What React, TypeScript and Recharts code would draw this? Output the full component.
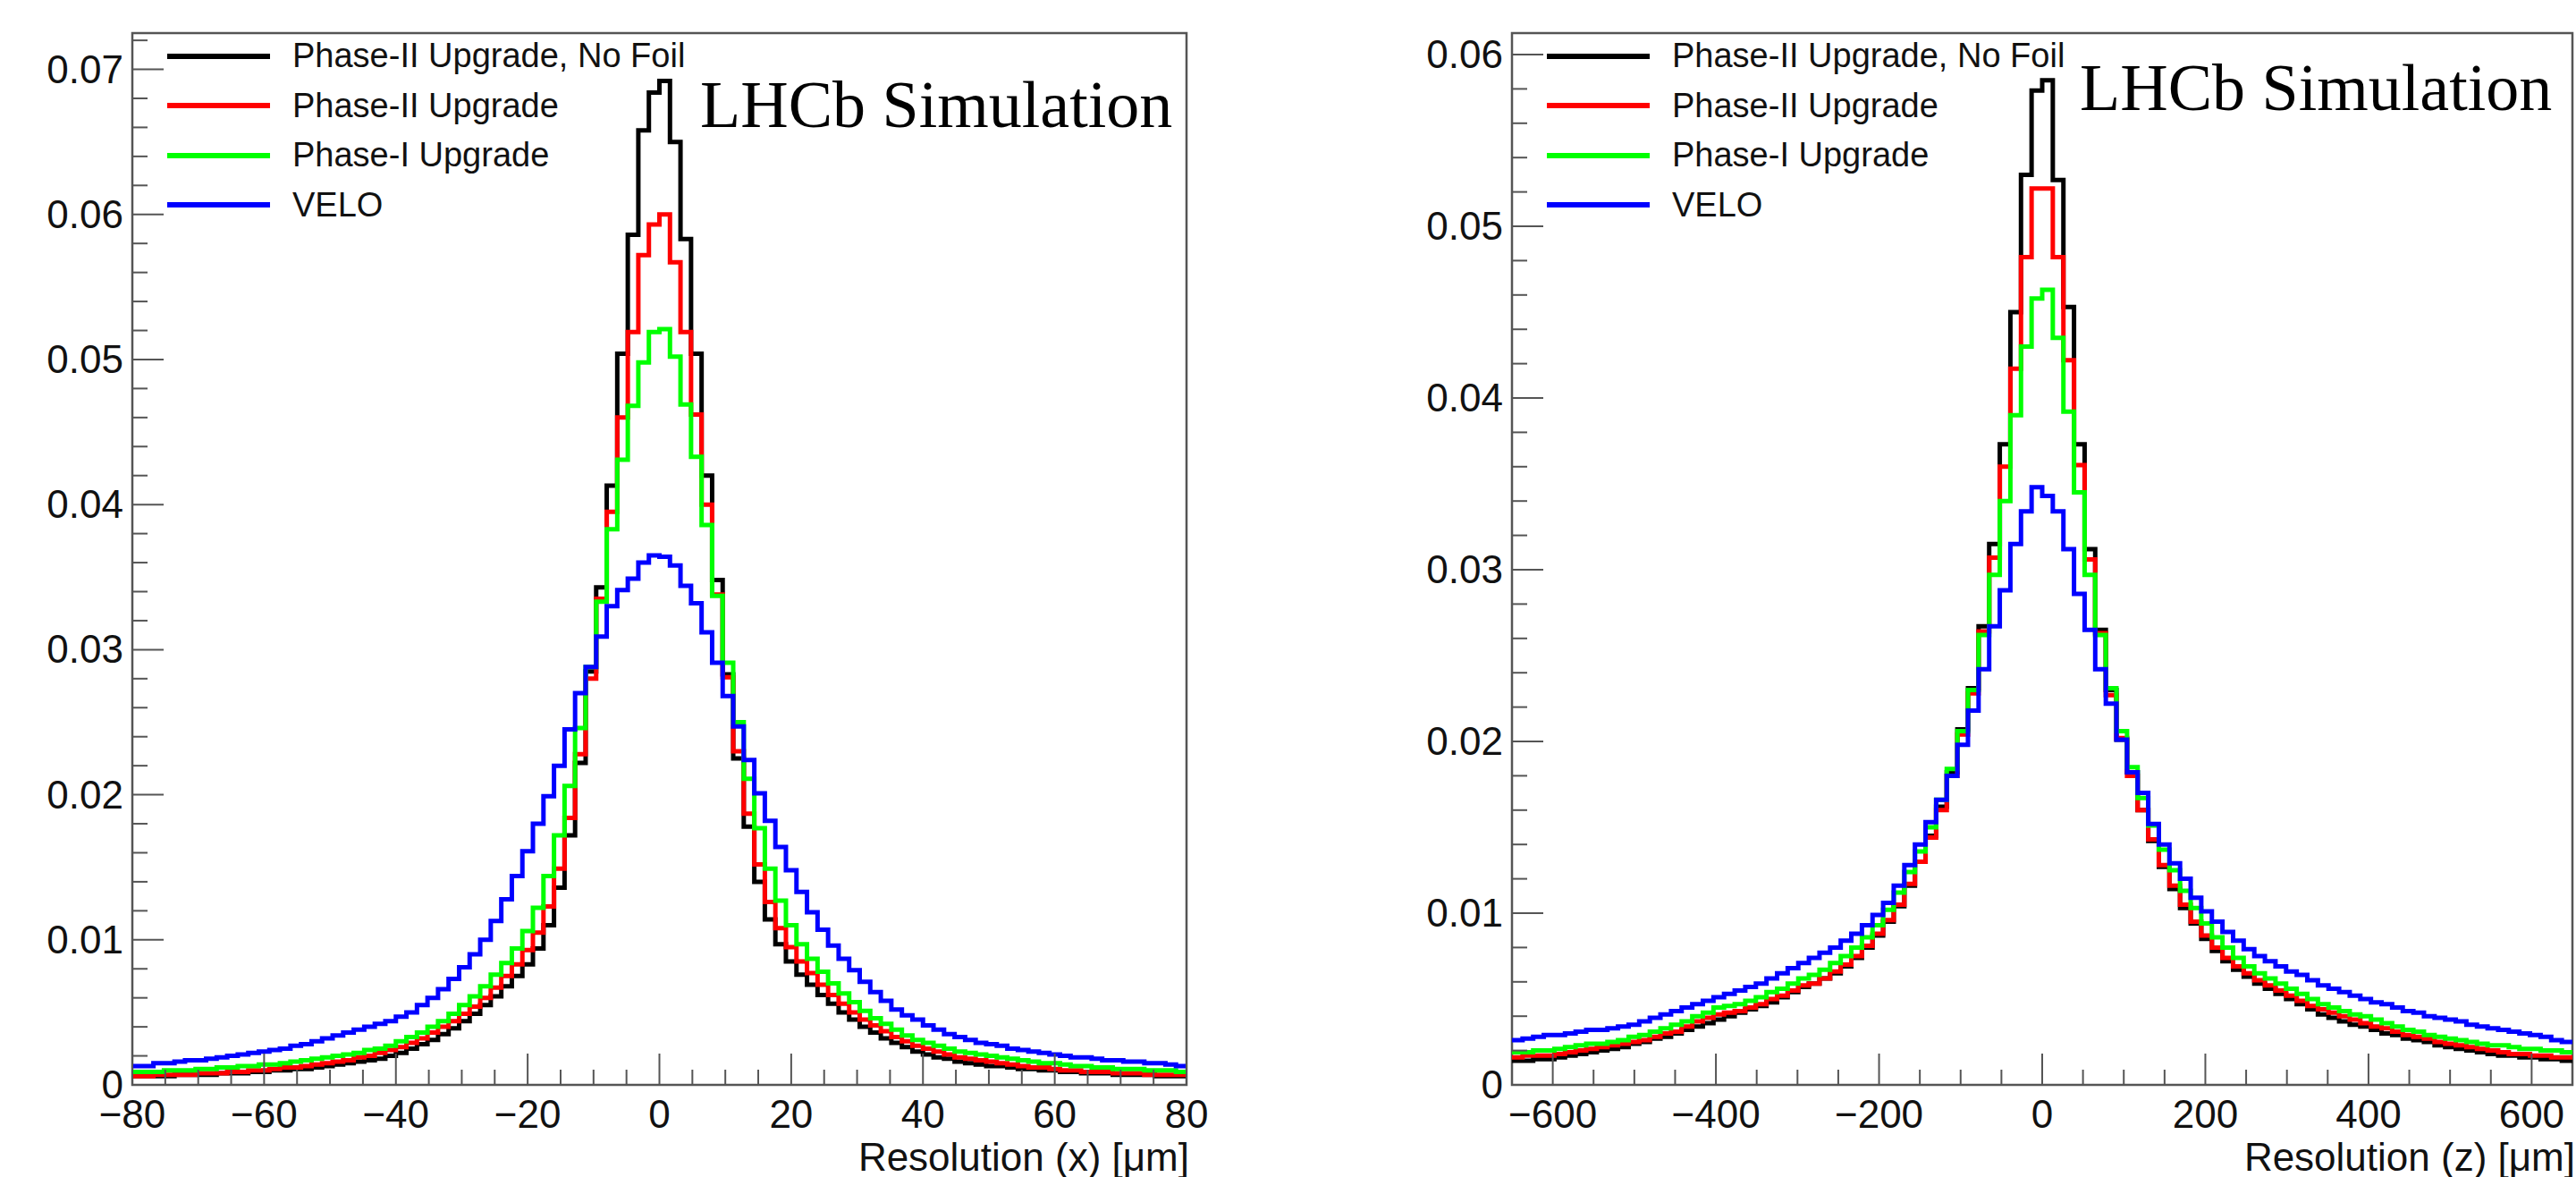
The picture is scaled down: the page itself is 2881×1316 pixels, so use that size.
import { Legend, Line, LineChart, ReferenceArea, XAxis, YAxis } from 'recharts';

const seriesNames = ['Phase-II Upgrade, No Foil', 'Phase-II Upgrade', 'Phase-I Upgrade', 'VELO'];
const seriesKeys = ['noFoil', 'phase2', 'phase1', 'velo'];
const seriesColors = ['#000000', '#ff0000', '#00ff00', '#0000ff'];

// Resolution (x): 100 bins, -80 .. 80 um
const xRange = [-80, 80];
const xBinWidth = 1.6;
const xNoFoil = [
  0.0006, 0.0006, 0.0006, 0.0006, 0.0007, 0.0007, 0.0007, 0.0007, 0.0008, 0.0008,
  0.0008, 0.0009, 0.0009, 0.0010, 0.0010, 0.0011, 0.0011, 0.0012, 0.0013, 0.0014,
  0.0015, 0.0016, 0.0017, 0.0018, 0.0020, 0.0022, 0.0025, 0.0028, 0.0031, 0.0035,
  0.0039, 0.0044, 0.0049, 0.0055, 0.0061, 0.0068, 0.0075, 0.0083, 0.0094, 0.0110,
  0.0136, 0.0172, 0.0222, 0.0285, 0.0343, 0.0413, 0.0504, 0.0586, 0.0658, 0.0684,
  0.0692, 0.0650, 0.0583, 0.0504, 0.0420, 0.0348, 0.0283, 0.0225, 0.0178, 0.0140,
  0.0114, 0.0097, 0.0085, 0.0076, 0.0069, 0.0062, 0.0056, 0.0050, 0.0045, 0.0040,
  0.0036, 0.0032, 0.0029, 0.0026, 0.0023, 0.0021, 0.0019, 0.0018, 0.0016, 0.0015,
  0.0014, 0.0013, 0.0013, 0.0012, 0.0011, 0.0011, 0.0010, 0.0010, 0.0009, 0.0009,
  0.0008, 0.0008, 0.0008, 0.0007, 0.0007, 0.0007, 0.0007, 0.0006, 0.0006, 0.0006,
];
const xPhase2 = [
  0.0006, 0.0006, 0.0007, 0.0007, 0.0007, 0.0007, 0.0008, 0.0008, 0.0008, 0.0009,
  0.0009, 0.0010, 0.0010, 0.0011, 0.0012, 0.0012, 0.0013, 0.0014, 0.0015, 0.0016,
  0.0017, 0.0019, 0.0020, 0.0022, 0.0024, 0.0026, 0.0029, 0.0032, 0.0036, 0.0040,
  0.0044, 0.0049, 0.0054, 0.0060, 0.0067, 0.0075, 0.0083, 0.0093, 0.0105, 0.0123,
  0.0149, 0.0184, 0.0228, 0.0280, 0.0335, 0.0395, 0.0460, 0.0519, 0.0572, 0.0593,
  0.0600, 0.0567, 0.0519, 0.0462, 0.0400, 0.0338, 0.0281, 0.0230, 0.0187, 0.0152,
  0.0126, 0.0108, 0.0095, 0.0085, 0.0077, 0.0069, 0.0062, 0.0056, 0.0050, 0.0045,
  0.0041, 0.0037, 0.0033, 0.0030, 0.0027, 0.0025, 0.0023, 0.0021, 0.0019, 0.0018,
  0.0017, 0.0016, 0.0015, 0.0014, 0.0013, 0.0012, 0.0012, 0.0011, 0.0010, 0.0010,
  0.0009, 0.0009, 0.0009, 0.0008, 0.0008, 0.0008, 0.0007, 0.0007, 0.0007, 0.0007,
];
const xPhase1 = [
  0.0009, 0.0009, 0.0009, 0.0010, 0.0010, 0.0010, 0.0011, 0.0011, 0.0012, 0.0012,
  0.0013, 0.0013, 0.0014, 0.0014, 0.0015, 0.0016, 0.0017, 0.0018, 0.0019, 0.0020,
  0.0021, 0.0022, 0.0024, 0.0025, 0.0027, 0.0030, 0.0033, 0.0036, 0.0040, 0.0044,
  0.0049, 0.0055, 0.0061, 0.0068, 0.0076, 0.0084, 0.0094, 0.0106, 0.0122, 0.0144,
  0.0172, 0.0206, 0.0246, 0.0288, 0.0333, 0.0383, 0.0431, 0.0468, 0.0498, 0.0519,
  0.0521, 0.0502, 0.0469, 0.0433, 0.0386, 0.0337, 0.0291, 0.0250, 0.0211, 0.0177,
  0.0149, 0.0127, 0.0110, 0.0097, 0.0087, 0.0078, 0.0070, 0.0063, 0.0057, 0.0051,
  0.0046, 0.0042, 0.0038, 0.0034, 0.0031, 0.0029, 0.0027, 0.0025, 0.0023, 0.0022,
  0.0021, 0.0020, 0.0019, 0.0018, 0.0017, 0.0016, 0.0015, 0.0015, 0.0014, 0.0013,
  0.0013, 0.0012, 0.0012, 0.0011, 0.0011, 0.0011, 0.0010, 0.0010, 0.0010, 0.0009,
];
const xVelo = [
  0.0013, 0.0013, 0.0015, 0.0015, 0.0016, 0.0017, 0.0017, 0.0018, 0.0019, 0.0020,
  0.0021, 0.0022, 0.0023, 0.0024, 0.0025, 0.0027, 0.0028, 0.0030, 0.0032, 0.0034,
  0.0036, 0.0038, 0.0040, 0.0042, 0.0044, 0.0047, 0.0050, 0.0055, 0.0060, 0.0066,
  0.0073, 0.0081, 0.0090, 0.0100, 0.0113, 0.0128, 0.0144, 0.0161, 0.0180, 0.0199,
  0.0220, 0.0245, 0.0270, 0.0288, 0.0309, 0.0330, 0.0341, 0.0349, 0.0360, 0.0365,
  0.0364, 0.0358, 0.0344, 0.0332, 0.0312, 0.0291, 0.0268, 0.0247, 0.0224, 0.0201,
  0.0182, 0.0164, 0.0148, 0.0133, 0.0119, 0.0107, 0.0096, 0.0087, 0.0079, 0.0071,
  0.0064, 0.0058, 0.0052, 0.0048, 0.0045, 0.0041, 0.0038, 0.0035, 0.0033, 0.0031,
  0.0029, 0.0028, 0.0027, 0.0025, 0.0024, 0.0023, 0.0022, 0.0021, 0.0020, 0.0019,
  0.0019, 0.0018, 0.0017, 0.0017, 0.0016, 0.0016, 0.0015, 0.0015, 0.0014, 0.0013,
];

// Resolution (z): 100 bins, -650 .. 650 um
const zRange = [-650, 650];
const zBinWidth = 13;
const zNoFoil = [
  0.0014, 0.0014, 0.0015, 0.0015, 0.0016, 0.0017, 0.0018, 0.0019, 0.0020, 0.0021,
  0.0022, 0.0024, 0.0025, 0.0027, 0.0028, 0.0030, 0.0032, 0.0034, 0.0036, 0.0038,
  0.0040, 0.0042, 0.0044, 0.0046, 0.0048, 0.0051, 0.0054, 0.0057, 0.0059, 0.0062,
  0.0065, 0.0069, 0.0074, 0.0080, 0.0087, 0.0095, 0.0104, 0.0116, 0.0130, 0.0145,
  0.0162, 0.0182, 0.0207, 0.0231, 0.0267, 0.0315, 0.0373, 0.0450, 0.0530, 0.0579,
  0.0585, 0.0527, 0.0453, 0.0373, 0.0312, 0.0265, 0.0230, 0.0201, 0.0182, 0.0160,
  0.0142, 0.0127, 0.0114, 0.0103, 0.0094, 0.0085, 0.0078, 0.0072, 0.0067, 0.0063,
  0.0059, 0.0056, 0.0053, 0.0050, 0.0047, 0.0044, 0.0041, 0.0039, 0.0037, 0.0035,
  0.0034, 0.0032, 0.0030, 0.0029, 0.0027, 0.0026, 0.0025, 0.0023, 0.0022, 0.0021,
  0.0020, 0.0019, 0.0018, 0.0017, 0.0017, 0.0016, 0.0016, 0.0015, 0.0015, 0.0014,
];
const zPhase2 = [
  0.0016, 0.0017, 0.0017, 0.0017, 0.0018, 0.0019, 0.0020, 0.0021, 0.0022, 0.0023,
  0.0024, 0.0025, 0.0026, 0.0028, 0.0030, 0.0031, 0.0034, 0.0037, 0.0039, 0.0041,
  0.0042, 0.0043, 0.0045, 0.0047, 0.0050, 0.0052, 0.0055, 0.0058, 0.0059, 0.0062,
  0.0066, 0.0070, 0.0075, 0.0081, 0.0088, 0.0096, 0.0105, 0.0117, 0.0130, 0.0144,
  0.0160, 0.0180, 0.0204, 0.0228, 0.0264, 0.0307, 0.0360, 0.0417, 0.0482, 0.0522,
  0.0522, 0.0482, 0.0422, 0.0361, 0.0306, 0.0263, 0.0227, 0.0202, 0.0180, 0.0160,
  0.0143, 0.0128, 0.0116, 0.0105, 0.0095, 0.0087, 0.0080, 0.0074, 0.0069, 0.0065,
  0.0061, 0.0058, 0.0055, 0.0052, 0.0049, 0.0046, 0.0044, 0.0042, 0.0040, 0.0038,
  0.0036, 0.0034, 0.0033, 0.0031, 0.0029, 0.0028, 0.0027, 0.0025, 0.0024, 0.0023,
  0.0022, 0.0021, 0.0020, 0.0019, 0.0018, 0.0018, 0.0017, 0.0017, 0.0016, 0.0016,
];
const zPhase1 = [
  0.0019, 0.0019, 0.0020, 0.0020, 0.0021, 0.0022, 0.0023, 0.0024, 0.0024, 0.0025,
  0.0026, 0.0028, 0.0029, 0.0031, 0.0033, 0.0035, 0.0037, 0.0040, 0.0042, 0.0045,
  0.0046, 0.0047, 0.0049, 0.0051, 0.0054, 0.0056, 0.0059, 0.0062, 0.0064, 0.0067,
  0.0071, 0.0075, 0.0080, 0.0086, 0.0093, 0.0102, 0.0112, 0.0124, 0.0136, 0.0150,
  0.0166, 0.0184, 0.0206, 0.0230, 0.0262, 0.0297, 0.0340, 0.0390, 0.0430, 0.0458,
  0.0463, 0.0435, 0.0392, 0.0345, 0.0297, 0.0262, 0.0231, 0.0206, 0.0185, 0.0167,
  0.0151, 0.0137, 0.0125, 0.0113, 0.0103, 0.0094, 0.0086, 0.0080, 0.0074, 0.0069,
  0.0065, 0.0062, 0.0059, 0.0056, 0.0053, 0.0050, 0.0047, 0.0045, 0.0043, 0.0041,
  0.0040, 0.0038, 0.0036, 0.0034, 0.0032, 0.0031, 0.0029, 0.0028, 0.0027, 0.0026,
  0.0025, 0.0024, 0.0023, 0.0023, 0.0022, 0.0021, 0.0021, 0.0020, 0.0020, 0.0019,
];
const zVelo = [
  0.0026, 0.0027, 0.0028, 0.0029, 0.0029, 0.0030, 0.0031, 0.0032, 0.0032, 0.0033,
  0.0034, 0.0035, 0.0037, 0.0039, 0.0041, 0.0043, 0.0045, 0.0047, 0.0049, 0.0051,
  0.0053, 0.0055, 0.0057, 0.0059, 0.0062, 0.0065, 0.0068, 0.0071, 0.0074, 0.0077,
  0.0080, 0.0084, 0.0088, 0.0093, 0.0099, 0.0106, 0.0116, 0.0128, 0.0140, 0.0153,
  0.0166, 0.0180, 0.0198, 0.0218, 0.0242, 0.0267, 0.0288, 0.0315, 0.0334, 0.0348,
  0.0343, 0.0334, 0.0312, 0.0286, 0.0265, 0.0242, 0.0222, 0.0201, 0.0182, 0.0170,
  0.0152, 0.0140, 0.0129, 0.0120, 0.0109, 0.0101, 0.0095, 0.0089, 0.0084, 0.0079,
  0.0075, 0.0072, 0.0069, 0.0066, 0.0064, 0.0061, 0.0058, 0.0056, 0.0054, 0.0052,
  0.0050, 0.0048, 0.0047, 0.0045, 0.0043, 0.0042, 0.0040, 0.0039, 0.0038, 0.0037,
  0.0035, 0.0034, 0.0033, 0.0032, 0.0031, 0.0030, 0.0029, 0.0028, 0.0026, 0.0025,
];

const xTicks = [-80, -75, -70, -65, -60, -55, -50, -45, -40, -35, -30, -25, -20, -15, -10, -5, 0, 5, 10, 15, 20, 25, 30, 35, 40, 45, 50, 55, 60, 65, 70, 75, 80];
const zTicks = [-600, -550, -500, -450, -400, -350, -300, -250, -200, -150, -100, -50, 0, 50, 100, 150, 200, 250, 300, 350, 400, 450, 500, 550, 600];

const SANS = "'Liberation Sans', Arial, Helvetica, sans-serif";
const SERIF = "'Liberation Serif', 'Times New Roman', serif";
const AXIS_COLOR = '#555';

// histogram outline: one point per lower bin edge, plus the last upper edge
const buildHist = (lo: number, width: number, series: number[][]) => {
  const rows = series[0].map((_, i) => {
    const row: Record<string, number> = { x: +(lo + i * width).toFixed(3) };
    seriesKeys.forEach((k, s) => (row[k] = series[s][i]));
    return row;
  });
  const last: Record<string, number> = { x: +(lo + series[0].length * width).toFixed(3) };
  seriesKeys.forEach((k, s) => (last[k] = series[s][series[s].length - 1]));
  return [...rows, last];
};

const xData = buildHist(xRange[0], xBinWidth, [xNoFoil, xPhase2, xPhase1, xVelo]);
const zData = buildHist(zRange[0], zBinWidth, [zNoFoil, zPhase2, zPhase1, zVelo]);

// minor ticks every 0.002, kept inside the frame
const yTicksTo = (max: number) =>
  Array.from({ length: Math.floor(max / 0.002 + 1e-6) + 1 }, (_, i) => +(i * 0.002).toFixed(3));

const XTick = (props: any) => {
  const { x, y, payload, majorEvery } = props;
  const v = payload.value as number;
  const major = v % majorEvery === 0;
  return (
    <g>
      <line x1={x} x2={x} y1={y} y2={y - (major ? 35 : 17)} stroke={AXIS_COLOR} strokeWidth={2} />
      {major && (
        <text x={x} y={y + 48} textAnchor="middle" fontSize={44} fontFamily={SANS} fill="#111">
          {String(v).replace('-', '\u2212')}
        </text>
      )}
    </g>
  );
};

const YTick = (props: any) => {
  const { x, y, payload } = props;
  const v = payload.value as number;
  const major = Math.abs(v * 100 - Math.round(v * 100)) < 1e-6;
  return (
    <g>
      <line x1={x} x2={x + (major ? 35 : 17)} y1={y} y2={y} stroke={AXIS_COLOR} strokeWidth={2} />
      {major && (
        <text x={x - 10} y={y + 15} textAnchor="end" fontSize={44} fontFamily={SANS} fill="#111">
          {v === 0 ? '0' : v.toFixed(2)}
        </text>
      )}
    </g>
  );
};

const LegendBox = () => (
  <div style={{ fontFamily: SANS }}>
    {seriesNames.map((name, i) => (
      <div key={name} style={{ display: 'flex', alignItems: 'center', height: 55.5 }}>
        <div style={{ width: 115, height: 6, background: seriesColors[i], marginRight: 25 }} />
        <span style={{ fontSize: 38, color: '#111', whiteSpace: 'nowrap' }}>{name}</span>
      </div>
    ))}
  </div>
);

interface PanelProps {
  data: Record<string, number>[];
  left: number;
  width: number;
  plotLeft: number;
  plotRight: number;
  xDomain: number[];
  xTicks: number[];
  majorEvery: number;
  yMax: number;
  title: string;
  lhcbLeft: number;
  lhcbBaseline: number;
}

const Panel = (p: PanelProps) => (
  <div style={{ position: 'absolute', left: p.left, top: 0, width: p.width, height: 1316 }}>
    <LineChart
      width={p.width}
      height={1316}
      data={p.data}
      margin={{ top: 37, right: p.width - p.plotRight, bottom: 23, left: 0 }}
    >
      <XAxis
        type="number"
        dataKey="x"
        domain={p.xDomain}
        ticks={p.xTicks}
        interval={0}
        allowDataOverflow
        height={80}
        axisLine={false}
        tickLine={false}
        tickSize={0}
        tickMargin={0}
        tick={(t: any) => <XTick {...t} majorEvery={p.majorEvery} />}
      />
      <YAxis
        type="number"
        domain={[0, p.yMax]}
        ticks={yTicksTo(p.yMax)}
        interval={0}
        allowDataOverflow
        width={p.plotLeft}
        axisLine={false}
        tickLine={false}
        tickSize={0}
        tickMargin={0}
        tick={(t: any) => <YTick {...t} />}
      />
      {seriesKeys.map((k, i) => (
        <Line
          key={k}
          type="stepAfter"
          dataKey={k}
          stroke={seriesColors[i]}
          strokeWidth={5}
          dot={false}
          isAnimationActive={false}
        />
      ))}
      <ReferenceArea
        x1={p.xDomain[0]}
        x2={p.xDomain[1]}
        y1={0}
        y2={p.yMax}
        fill="none"
        stroke={AXIS_COLOR}
        strokeWidth={2.5}
        ifOverflow="visible"
      />
      <Legend
        layout="vertical"
        align="center"
        verticalAlign="middle"
        content={() => <LegendBox />}
        wrapperStyle={{ left: p.plotLeft + 39, top: 35, width: 620, height: 230 }}
      />
    </LineChart>
    <div
      style={{
        position: 'absolute',
        left: p.lhcbLeft - p.left,
        top: p.lhcbBaseline - 62,
        fontFamily: SERIF,
        fontSize: 74,
        lineHeight: 1,
        whiteSpace: 'nowrap',
        color: '#000',
      }}
    >
      LHCb Simulation
    </div>
    <div
      style={{
        position: 'absolute',
        right: p.width - p.plotRight - 3,
        top: 1276,
        fontFamily: SANS,
        fontSize: 44,
        lineHeight: '36px',
        whiteSpace: 'nowrap',
        color: '#111',
      }}
    >
      {p.title}
    </div>
  </div>
);

export default function App() {
  return (
    <div style={{ position: 'absolute', left: 0, top: 0, width: 2881, height: 1316, background: '#fff' }}>
      <Panel
        data={xData}
        left={0}
        width={1400}
        plotLeft={148}
        plotRight={1327}
        xDomain={xRange}
        xTicks={xTicks}
        majorEvery={20}
        yMax={0.0725}
        title="Resolution (x) [μm]"
        lhcbLeft={783}
        lhcbBaseline={142}
      />
      <Panel
        data={zData}
        left={1500}
        width={1381}
        plotLeft={191}
        plotRight={1377}
        xDomain={zRange}
        xTicks={zTicks}
        majorEvery={200}
        yMax={0.06125}
        title="Resolution (z) [μm]"
        lhcbLeft={2326}
        lhcbBaseline={123}
      />
    </div>
  );
}
